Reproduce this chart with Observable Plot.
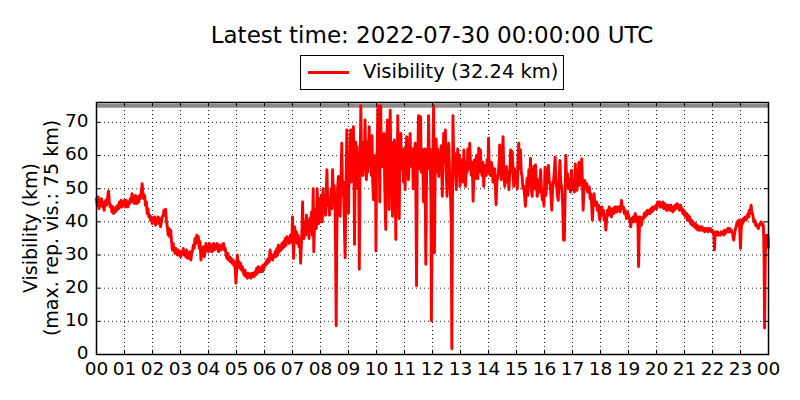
<!DOCTYPE html>
<html><head><meta charset="utf-8">
<script src="https://cdn.jsdelivr.net/npm/d3@7"></script>
<script src="https://cdn.jsdelivr.net/npm/@observablehq/plot@0.6"></script>
<style>
body{margin:0;background:#fff;font-family:"DejaVu Sans",sans-serif;}
#wrap{position:relative;width:800px;height:400px;overflow:hidden;background:#fff;}
#chart{position:absolute;left:0;top:0;}
#title{position:absolute;left:0;width:864px;top:21px;text-align:center;font-size:23px;line-height:28px;color:#000;white-space:nowrap;}
#legend{position:absolute;left:300px;top:55px;width:264px;height:35px;border:1px solid #000;background:#fff;box-sizing:border-box;}
#legend .sw{position:absolute;left:7px;top:15px;width:41px;height:3px;background:#ff0000;}
#legend .tx{position:absolute;left:62px;top:4px;font-size:19.5px;line-height:24px;white-space:nowrap;}
.ylab{position:absolute;top:228px;font-size:19px;line-height:22px;white-space:nowrap;transform:translate(-50%,-50%) rotate(-90deg);}
</style></head>
<body><div id="wrap"><div id="chart"></div>
<div id="title">Latest time: 2022-07-30 00:00:00 UTC</div>
<div id="legend"><div class="sw"></div><div class="tx">Visibility (32.24 km)</div></div>
<div class="ylab" style="left:30px">Visibility (km)</div>
<div class="ylab" style="left:51px">(max. rep. vis.: 75 km)</div>
</div>
<script>
const hourTicks = [0,1,2,3,4,5,6,7,8,9,10,11,12,13,14,15,16,17,18,19,20,21,22,23,24];
const visTicks = [0,10,20,30,40,50,60,70];
const maxReportedVis = 75;
const hours = [
0.00,0.03,0.06,0.09,0.12,0.15,0.18,0.21,0.24,0.27,0.30,0.33,0.36,0.40,0.43,0.46,0.49,0.52,0.55,0.58,0.61,0.64,0.67,0.70,0.73,0.76,0.79,0.82,0.85,0.88,0.91,0.94,0.97,
1.00,1.03,1.06,1.09,1.12,1.15,1.18,1.21,1.24,1.27,1.30,1.33,1.36,1.39,1.42,1.45,1.48,1.51,1.54,1.57,1.60,1.63,1.66,1.69,1.72,1.75,1.78,1.81,1.84,1.87,1.90,1.93,1.96,1.99,
2.02,2.05,2.08,2.11,2.14,2.17,2.20,2.23,2.26,2.29,2.32,2.35,2.38,2.41,2.44,2.47,2.50,2.53,2.56,2.59,2.62,2.65,2.68,2.71,2.74,2.77,2.80,2.83,2.86,2.89,2.92,2.95,2.98,
3.01,3.04,3.07,3.10,3.13,3.16,3.19,3.22,3.25,3.28,3.31,3.34,3.37,3.40,3.43,3.46,3.49,3.52,3.55,3.58,3.61,3.64,3.67,3.70,3.73,3.76,3.79,3.82,3.85,3.88,3.91,3.94,3.97,
4.00,4.03,4.06,4.09,4.12,4.15,4.18,4.21,4.24,4.27,4.30,4.33,4.36,4.39,4.42,4.45,4.48,4.51,4.54,4.57,4.60,4.63,4.66,4.69,4.72,4.75,4.78,4.81,4.84,4.87,4.90,4.93,4.96,4.98,
5.01,5.03,5.06,5.09,5.12,5.15,5.18,5.21,5.24,5.27,5.30,5.33,5.36,5.39,5.42,5.45,5.48,5.51,5.54,5.57,5.60,5.63,5.66,5.69,5.72,5.75,5.78,5.81,5.84,5.87,5.90,5.93,5.96,5.99,
6.02,6.05,6.08,6.11,6.14,6.17,6.20,6.23,6.26,6.29,6.32,6.35,6.38,6.41,6.44,6.47,6.50,6.53,6.56,6.59,6.62,6.65,6.68,6.71,6.74,6.77,6.80,6.83,6.86,6.89,6.92,6.95,6.98,
7.00,7.02,7.04,7.06,7.08,7.11,7.14,7.17,7.20,7.23,7.26,7.29,7.32,7.34,7.36,7.38,7.41,7.44,7.47,7.50,7.53,7.56,7.59,7.62,7.65,7.68,7.71,7.74,7.76,7.79,7.82,7.85,7.88,7.91,7.94,7.97,
8.00,8.03,8.06,8.09,8.12,8.15,8.18,8.21,8.23,8.26,8.29,8.32,8.35,8.38,8.41,8.43,8.46,8.49,8.52,8.54,8.56,8.58,8.61,8.64,8.67,8.70,8.73,8.76,8.79,8.82,8.85,8.88,8.91,8.94,8.97,
9.000,9.025,9.050,9.075,9.100,9.125,9.150,9.175,9.200,9.215,9.235,9.260,9.285,9.310,9.335,9.360,9.385,9.410,9.440,9.465,9.490,9.515,9.540,9.565,9.590,9.615,9.640,9.665,9.690,9.715,9.740,9.765,9.790,9.815,9.840,9.865,9.890,9.915,9.940,9.965,9.980,
10.000,10.025,10.050,10.075,10.100,10.115,10.135,10.150,10.175,10.200,10.215,10.240,10.270,10.295,10.330,10.355,10.390,10.415,10.440,10.450,10.470,10.490,10.515,10.540,10.570,10.595,10.620,10.640,10.660,10.690,10.715,10.740,10.760,10.785,10.810,10.835,10.870,10.895,10.920,10.940,10.965,10.990,
11.020,11.045,11.080,11.105,11.130,11.140,11.170,11.200,11.225,11.255,11.285,11.310,11.340,11.380,11.405,11.430,11.455,11.480,11.500,11.525,11.550,11.575,11.600,11.625,11.650,11.680,11.705,11.730,11.745,11.760,11.790,11.820,11.840,11.860,11.885,11.910,11.935,11.945,11.960,11.980,
12.00,12.02,12.04,12.06,12.07,12.10,12.13,12.16,12.19,12.22,12.25,12.28,12.31,12.35,12.38,12.40,12.43,12.46,12.49,12.52,12.55,12.58,12.61,12.64,12.67,12.69,12.71,12.73,12.76,12.79,12.82,12.85,12.88,12.90,12.93,12.96,12.98,
13.01,13.04,13.06,13.09,13.12,13.15,13.18,13.21,13.24,13.26,13.29,13.33,13.36,13.39,13.42,13.45,13.48,13.50,13.53,13.57,13.60,13.62,13.65,13.68,13.71,13.74,13.77,13.80,13.83,13.86,13.89,13.92,13.95,13.98,
14.00,14.03,14.07,14.10,14.13,14.16,14.19,14.22,14.27,14.30,14.35,14.38,14.40,14.43,14.46,14.49,14.52,14.55,14.58,14.61,14.64,14.67,14.70,14.73,14.76,14.79,14.82,14.85,14.88,14.90,14.93,14.97,
15.00,15.03,15.05,15.08,15.11,15.14,15.17,15.20,15.23,15.26,15.29,15.32,15.35,15.38,15.41,15.44,15.47,15.50,15.53,15.56,15.59,15.62,15.65,15.68,15.71,15.74,15.77,15.80,15.83,15.86,15.89,15.92,15.95,15.98,
16.02,16.05,16.07,16.10,16.14,16.17,16.20,16.23,16.26,16.29,16.32,16.35,16.38,16.41,16.43,16.46,16.49,16.52,16.55,16.58,16.62,16.65,16.68,16.71,16.73,16.76,16.79,16.82,16.85,16.88,16.91,16.93,16.96,16.99,
17.02,17.04,17.07,17.10,17.13,17.16,17.19,17.23,17.26,17.29,17.31,17.33,17.36,17.38,17.41,17.44,17.47,17.51,17.54,17.57,17.60,17.63,17.65,17.68,17.71,17.74,17.77,17.80,17.83,17.86,17.89,17.93,17.95,17.98,
18.01,18.05,18.08,18.11,18.13,18.16,18.19,18.22,18.25,18.28,18.31,18.34,18.36,18.39,18.42,18.45,18.48,18.51,18.55,18.58,18.61,18.64,18.67,18.70,18.73,18.75,18.78,18.82,18.85,18.88,18.90,18.93,18.96,
19.00,19.03,19.06,19.08,19.11,19.14,19.17,19.20,19.24,19.27,19.30,19.32,19.34,19.36,19.38,19.40,19.43,19.46,19.48,19.51,19.54,19.56,19.59,19.62,19.65,19.68,19.71,19.74,19.77,19.80,19.83,19.86,19.89,19.92,19.95,19.98,
20.01,20.04,20.07,20.11,20.14,20.17,20.20,20.23,20.26,20.29,20.32,20.35,20.37,20.40,20.43,20.46,20.49,20.52,20.55,20.58,20.61,20.64,20.67,20.70,20.73,20.76,20.79,20.82,20.86,20.89,20.92,20.94,20.97,
21.00,21.02,21.05,21.08,21.10,21.13,21.16,21.19,21.22,21.25,21.27,21.30,21.33,21.36,21.39,21.42,21.45,21.48,21.51,21.54,21.57,21.60,21.63,21.66,21.69,21.72,21.75,21.78,21.81,21.84,21.87,21.90,21.93,21.96,21.99,
22.02,22.05,22.07,22.09,22.12,22.15,22.18,22.21,22.25,22.28,22.31,22.34,22.37,22.40,22.43,22.46,22.49,22.52,22.55,22.58,22.61,22.64,22.67,22.69,22.72,22.74,22.76,22.78,22.81,22.84,22.88,22.91,22.94,22.96,22.98,
23.00,23.02,23.05,23.08,23.11,23.14,23.17,23.20,23.24,23.27,23.30,23.31,23.34,23.36,23.38,23.40,23.43,23.46,23.48,23.51,23.54,23.56,23.59,23.62,23.64,23.67,23.70,23.74,23.77,23.80,23.82,23.84,23.86,23.88,23.90,23.93,23.95,23.98,24.00
];
const visibility = [
47,45,47.5,44,46.5,45,47,44.5,46,43.5,45.5,46.5,45,47.5,49.3,46,44.5,45,43,44.5,42.5,44,43,44.5,43.5,45,44,46,44.5,46.5,44.5,46,45,
46.5,44.5,46.5,45,44.5,46,45.5,47,46,48.5,46,47.5,45.5,48,46.5,45.5,47.5,46,48,47,49,51.5,48.5,47,48,45,46,42.5,44,41.5,42,40.5,41.5,39.5,
41,40,41.5,39,40.5,40,41.5,39.5,41,38.5,40,41.5,42,43.5,42,43.8,40,38.5,36,38,35.5,37.5,34,31.5,33.5,32,30.5,32,31,30,31.5,30,31,
29.5,31,30.5,32,30,31,29.5,31.5,29,30.5,29,31,28.5,30.5,31.5,33,32,35,33.5,36,34,35.5,32,34,28.5,31,30,32.5,29.5,31,33.5,31.5,32.5,
31,33.5,31.5,33,31,32.5,33.5,31.5,33,32,33.5,32,31,33,32.5,31.5,33,32,33.5,31.5,32,30,29,30.5,28.5,29.5,28,29,27.5,28.5,27,28,25,21.5,
26,30,27,28,26,27.5,25.5,26.5,25,24,25.5,23.5,24.5,23,24.5,23.5,24,23,24.5,23.5,24.5,23.5,25,24,26,24.5,26.5,25,26,25,26.5,25,27,26,
27.5,27,28.5,27.5,29,28,31.5,29,30,28.5,30,29.5,31,29.5,32,30,33,31,32.5,31.5,33.5,32,34,32.5,35,33,35.5,34,35,33.5,36,34,35,
41.5,33,29,36,38.5,34,37,33.5,36,32.5,35,27.5,34,38,46,37,35,40,36,42,37,39.5,35,41,38,43,36,50,31,40,44,38,50,42,39.5,47,
41,48,40,50,43,47,42,50,55.7,45,47,42,46,50,44,55.7,48,51,45,30,8.7,35,50,53.7,47,41.7,52,63.7,48,52,40,29.2,50,67.7,55,
42.7,58,55,67.7,52,62,56,68.7,50,33.2,55,64,58,62.7,50,60,25.7,52,75,58,64,54,62,56.7,70.7,58,52.7,64,55,62,68.7,57,63,54,66,52,46.7,60,52,58,31.2,
55,62,75,55,60,46,62,75,58,63,56.7,62,66.7,50,37.7,60,70.7,55,62,43.7,60,73.7,56,64,41.7,58,52,64.7,56,34.7,60,54,72,55,41,58,66.7,56,62,59.7,52,62,
49.7,58,65.7,55,60,52.7,60,66.7,58,56.7,62,50,58,63.7,50,20.7,55,62,72,60,56,71.7,55,62,58,46,58,62,45,27.2,55,62,56,72,58,62,52,45,10.2,30,
50,62,75,55,30.7,60,65,55,62,53.7,60,56,63,47.7,60,66.7,58,67.7,55,47.7,58,63.7,55,49,40,1.7,40,72,58,60.7,55,49.7,58,62,55,60,50.7,
57,55,58.7,52,61.7,55,50.7,58,55,62,56,63.7,57,54,58,46.2,55,58.7,53,60,56.7,53,62.2,55,61.7,56,54,58,50.7,57,56.7,54,58.7,56,
65.2,55,54,58,56.7,52,52.7,56,45.2,52,54.7,58,63.2,55,52.7,58,65.7,55,50.7,56,56.7,52,55,49.7,55,61.7,55,61.2,54,50.7,56,52,
53.7,50,58,63.7,56,61.7,55,53.7,50,50.7,48,44.7,50,53.2,48,55.7,52,59.2,50,47.7,54,56.7,50,57.2,52,47.7,50,52.7,49,55.7,50,46.7,49,44.7,
56.5,48,50,53,57,52,52,48,43.5,50,52,55,59.5,52,51,48,46.5,52,58.5,52,50,45,34.5,34.5,45,60,52,54.5,50,50.5,53,49,55.5,51,
50,52.5,49,57.5,52,49.5,52,58,51,51.5,54,59,50,43.5,50,52.5,50,51.5,49,50.5,50.5,47,48.5,46,40.5,46,48.5,45,46,46,43.5,45,42,40.5,
44,44.5,42,43.5,40.5,42,37.5,41,43.5,42,44.5,42.5,44,41.5,43.5,44,42.5,44.5,44.5,43,44.5,43.5,44.5,43,45,46.5,44,44.5,42.5,43.5,42.5,41,43,
42,41,40,38.5,41,40,41.5,40,42.5,41,40,41.5,38,26.5,35,41.5,40.5,39,40,41.5,41,42.5,41.5,43,42,43.5,42.5,43.5,42.5,44,43,44.5,43.5,44.5,44,45,
44,46,45,46,44.5,45.5,44.5,46,44,45.5,44.5,43.5,45,43.5,45,44.5,43.5,45,44,43,44.5,43.5,45,44,45.5,44.5,45,43.5,45,43.5,44,42.5,43.5,
42,43,41.5,42.5,40.5,42,40.5,41.5,39.5,40.5,39,40,39,38.5,39.5,38,39,37.5,38.5,37.5,38.5,37.5,38.5,37.5,38,37,38,37.5,38,37,38,37.5,38,37,37.5,
37,36,31.5,35.5,37,36,37,36,36.5,36,37,36.5,37,36,37.5,36.5,37.5,37,38,37,38,37,37.5,37,36.5,35,34.5,36,37.5,38.5,40,39,40.5,40,36,
32,37,40.5,39.5,41,40.5,41.5,40.5,41.5,42.5,41.5,43.5,42.5,44,45,43,42.5,41,40,40.5,39,39.5,38.5,39,38,39,39.5,40,39,39.5,38.5,30,8,25,36,35,34.5,36,32.24
];
const data = hours.map((h, i) => ({h, v: visibility[i]}));
const fmtHour = d => String(d % 24).padStart(2, "0");

const chart = Plot.plot({
  width: 800, height: 400,
  marginTop: 102, marginRight: 32, marginBottom: 46, marginLeft: 96,
  style: {fontFamily: "DejaVu Sans", fontSize: "18.5px", background: "transparent", color: "#000"},
  x: {domain: [0, 24], ticks: hourTicks, tickFormat: fmtHour},
  y: {domain: [0, 76], ticks: visTicks},
  marks: [
    Plot.gridX(hourTicks.slice(1, -1), {stroke: "#000", strokeOpacity: 1, strokeWidth: 0.9, strokeDasharray: "1,3"}),
    Plot.gridY(visTicks.slice(1), {stroke: "#000", strokeOpacity: 1, strokeWidth: 0.9, strokeDasharray: "1,3"}),
    Plot.ruleY([maxReportedVis], {stroke: "#8a8a8a", strokeWidth: 4}),
    Plot.line(data, {x: "h", y: "v", stroke: "#ff0000", strokeWidth: 2.9, strokeLinejoin: "round"}),
    Plot.ruleX(hourTicks, {y1: 0, y2: 1.3, stroke: "#000", strokeWidth: 1}),
    Plot.ruleX(hourTicks, {y1: 76, y2: 74.7, stroke: "#000", strokeWidth: 1}),
    Plot.ruleY(visTicks, {x1: 0, x2: 0.15, stroke: "#000", strokeWidth: 1}),
    Plot.ruleY(visTicks, {x1: 24, x2: 23.85, stroke: "#000", strokeWidth: 1}),
    Plot.axisX({ticks: hourTicks, tickSize: 0, tickPadding: 7, tickFormat: fmtHour, label: null}),
    Plot.axisY({ticks: visTicks, tickSize: 0, tickPadding: 8, dy: -1, label: null}),
    Plot.frame({stroke: "#000", strokeWidth: 1.5})
  ]
});
document.getElementById("chart").appendChild(chart);
</script>
</body></html>
